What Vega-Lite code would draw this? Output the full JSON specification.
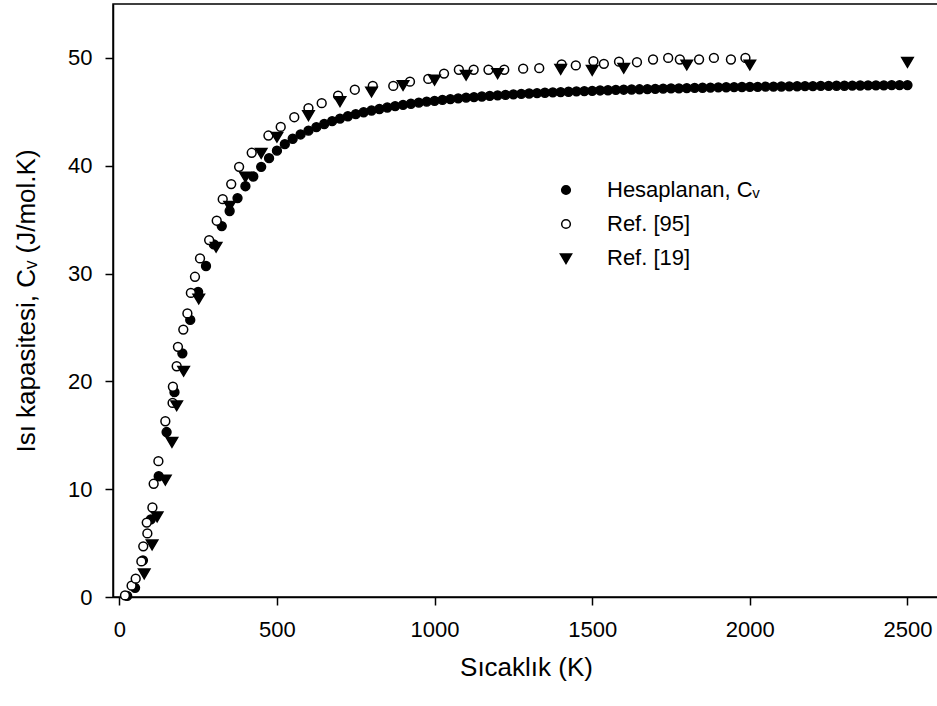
{
  "$schema": "https://vega.github.io/schema/vega-lite/v6.json",
  "width": 826,
  "height": 593,
  "autosize": {"type": "none"},
  "padding": {"left": 113, "top": 4, "right": 0, "bottom": 109},
  "background": "white",
  "config": {
    "font": "Liberation Sans",
    "view": {"stroke": "black", "strokeWidth": 1.5},
    "legend": {
      "title": null, "orient": "none", "legendX": 442, "legendY": 175,
      "labelFontSize": 22, "labelColor": "black", "labelOffset": 30, "rowPadding": 12, "padding": 0,
      "symbolSize": 75, "symbolStrokeWidth": 1.5
    }
  },
  "data": {"values": [
    {"series":"Hesaplanan, Cᵥ","order":1,"T":25,"Cv":0.1},
    {"series":"Hesaplanan, Cᵥ","order":1,"T":50,"Cv":0.85},
    {"series":"Hesaplanan, Cᵥ","order":1,"T":75,"Cv":3.4},
    {"series":"Hesaplanan, Cᵥ","order":1,"T":100,"Cv":7.2},
    {"series":"Hesaplanan, Cᵥ","order":1,"T":125,"Cv":11.2},
    {"series":"Hesaplanan, Cᵥ","order":1,"T":150,"Cv":15.3},
    {"series":"Hesaplanan, Cᵥ","order":1,"T":175,"Cv":19.0},
    {"series":"Hesaplanan, Cᵥ","order":1,"T":200,"Cv":22.6},
    {"series":"Hesaplanan, Cᵥ","order":1,"T":225,"Cv":25.7},
    {"series":"Hesaplanan, Cᵥ","order":1,"T":250,"Cv":28.3},
    {"series":"Hesaplanan, Cᵥ","order":1,"T":275,"Cv":30.7},
    {"series":"Hesaplanan, Cᵥ","order":1,"T":300,"Cv":32.7},
    {"series":"Hesaplanan, Cᵥ","order":1,"T":325,"Cv":34.4},
    {"series":"Hesaplanan, Cᵥ","order":1,"T":350,"Cv":35.8},
    {"series":"Hesaplanan, Cᵥ","order":1,"T":375,"Cv":37.0},
    {"series":"Hesaplanan, Cᵥ","order":1,"T":400,"Cv":38.1},
    {"series":"Hesaplanan, Cᵥ","order":1,"T":425,"Cv":39.0},
    {"series":"Hesaplanan, Cᵥ","order":1,"T":450,"Cv":39.9},
    {"series":"Hesaplanan, Cᵥ","order":1,"T":475,"Cv":40.7},
    {"series":"Hesaplanan, Cᵥ","order":1,"T":500,"Cv":41.4},
    {"series":"Hesaplanan, Cᵥ","order":1,"T":525,"Cv":42.0},
    {"series":"Hesaplanan, Cᵥ","order":1,"T":550,"Cv":42.5},
    {"series":"Hesaplanan, Cᵥ","order":1,"T":575,"Cv":42.9},
    {"series":"Hesaplanan, Cᵥ","order":1,"T":600,"Cv":43.25},
    {"series":"Hesaplanan, Cᵥ","order":1,"T":625,"Cv":43.58},
    {"series":"Hesaplanan, Cᵥ","order":1,"T":650,"Cv":43.87},
    {"series":"Hesaplanan, Cᵥ","order":1,"T":675,"Cv":44.13},
    {"series":"Hesaplanan, Cᵥ","order":1,"T":700,"Cv":44.37},
    {"series":"Hesaplanan, Cᵥ","order":1,"T":725,"Cv":44.59},
    {"series":"Hesaplanan, Cᵥ","order":1,"T":750,"Cv":44.78},
    {"series":"Hesaplanan, Cᵥ","order":1,"T":775,"Cv":44.96},
    {"series":"Hesaplanan, Cᵥ","order":1,"T":800,"Cv":45.12},
    {"series":"Hesaplanan, Cᵥ","order":1,"T":825,"Cv":45.26},
    {"series":"Hesaplanan, Cᵥ","order":1,"T":850,"Cv":45.40},
    {"series":"Hesaplanan, Cᵥ","order":1,"T":875,"Cv":45.53},
    {"series":"Hesaplanan, Cᵥ","order":1,"T":900,"Cv":45.64},
    {"series":"Hesaplanan, Cᵥ","order":1,"T":925,"Cv":45.75},
    {"series":"Hesaplanan, Cᵥ","order":1,"T":950,"Cv":45.85},
    {"series":"Hesaplanan, Cᵥ","order":1,"T":975,"Cv":45.94},
    {"series":"Hesaplanan, Cᵥ","order":1,"T":1000,"Cv":46.02},
    {"series":"Hesaplanan, Cᵥ","order":1,"T":1025,"Cv":46.10},
    {"series":"Hesaplanan, Cᵥ","order":1,"T":1050,"Cv":46.17},
    {"series":"Hesaplanan, Cᵥ","order":1,"T":1075,"Cv":46.24},
    {"series":"Hesaplanan, Cᵥ","order":1,"T":1100,"Cv":46.31},
    {"series":"Hesaplanan, Cᵥ","order":1,"T":1125,"Cv":46.37},
    {"series":"Hesaplanan, Cᵥ","order":1,"T":1150,"Cv":46.42},
    {"series":"Hesaplanan, Cᵥ","order":1,"T":1175,"Cv":46.48},
    {"series":"Hesaplanan, Cᵥ","order":1,"T":1200,"Cv":46.52},
    {"series":"Hesaplanan, Cᵥ","order":1,"T":1225,"Cv":46.57},
    {"series":"Hesaplanan, Cᵥ","order":1,"T":1250,"Cv":46.62},
    {"series":"Hesaplanan, Cᵥ","order":1,"T":1275,"Cv":46.66},
    {"series":"Hesaplanan, Cᵥ","order":1,"T":1300,"Cv":46.70},
    {"series":"Hesaplanan, Cᵥ","order":1,"T":1325,"Cv":46.73},
    {"series":"Hesaplanan, Cᵥ","order":1,"T":1350,"Cv":46.77},
    {"series":"Hesaplanan, Cᵥ","order":1,"T":1375,"Cv":46.80},
    {"series":"Hesaplanan, Cᵥ","order":1,"T":1400,"Cv":46.83},
    {"series":"Hesaplanan, Cᵥ","order":1,"T":1425,"Cv":46.86},
    {"series":"Hesaplanan, Cᵥ","order":1,"T":1450,"Cv":46.89},
    {"series":"Hesaplanan, Cᵥ","order":1,"T":1475,"Cv":46.92},
    {"series":"Hesaplanan, Cᵥ","order":1,"T":1500,"Cv":46.95},
    {"series":"Hesaplanan, Cᵥ","order":1,"T":1525,"Cv":46.98},
    {"series":"Hesaplanan, Cᵥ","order":1,"T":1550,"Cv":47.00},
    {"series":"Hesaplanan, Cᵥ","order":1,"T":1575,"Cv":47.03},
    {"series":"Hesaplanan, Cᵥ","order":1,"T":1600,"Cv":47.05},
    {"series":"Hesaplanan, Cᵥ","order":1,"T":1625,"Cv":47.07},
    {"series":"Hesaplanan, Cᵥ","order":1,"T":1650,"Cv":47.09},
    {"series":"Hesaplanan, Cᵥ","order":1,"T":1675,"Cv":47.11},
    {"series":"Hesaplanan, Cᵥ","order":1,"T":1700,"Cv":47.13},
    {"series":"Hesaplanan, Cᵥ","order":1,"T":1725,"Cv":47.15},
    {"series":"Hesaplanan, Cᵥ","order":1,"T":1750,"Cv":47.17},
    {"series":"Hesaplanan, Cᵥ","order":1,"T":1775,"Cv":47.18},
    {"series":"Hesaplanan, Cᵥ","order":1,"T":1800,"Cv":47.20},
    {"series":"Hesaplanan, Cᵥ","order":1,"T":1825,"Cv":47.22},
    {"series":"Hesaplanan, Cᵥ","order":1,"T":1850,"Cv":47.23},
    {"series":"Hesaplanan, Cᵥ","order":1,"T":1875,"Cv":47.25},
    {"series":"Hesaplanan, Cᵥ","order":1,"T":1900,"Cv":47.26},
    {"series":"Hesaplanan, Cᵥ","order":1,"T":1925,"Cv":47.28},
    {"series":"Hesaplanan, Cᵥ","order":1,"T":1950,"Cv":47.29},
    {"series":"Hesaplanan, Cᵥ","order":1,"T":1975,"Cv":47.30},
    {"series":"Hesaplanan, Cᵥ","order":1,"T":2000,"Cv":47.31},
    {"series":"Hesaplanan, Cᵥ","order":1,"T":2025,"Cv":47.32},
    {"series":"Hesaplanan, Cᵥ","order":1,"T":2050,"Cv":47.33},
    {"series":"Hesaplanan, Cᵥ","order":1,"T":2075,"Cv":47.34},
    {"series":"Hesaplanan, Cᵥ","order":1,"T":2100,"Cv":47.35},
    {"series":"Hesaplanan, Cᵥ","order":1,"T":2125,"Cv":47.36},
    {"series":"Hesaplanan, Cᵥ","order":1,"T":2150,"Cv":47.37},
    {"series":"Hesaplanan, Cᵥ","order":1,"T":2175,"Cv":47.38},
    {"series":"Hesaplanan, Cᵥ","order":1,"T":2200,"Cv":47.39},
    {"series":"Hesaplanan, Cᵥ","order":1,"T":2225,"Cv":47.40},
    {"series":"Hesaplanan, Cᵥ","order":1,"T":2250,"Cv":47.41},
    {"series":"Hesaplanan, Cᵥ","order":1,"T":2275,"Cv":47.42},
    {"series":"Hesaplanan, Cᵥ","order":1,"T":2300,"Cv":47.42},
    {"series":"Hesaplanan, Cᵥ","order":1,"T":2325,"Cv":47.43},
    {"series":"Hesaplanan, Cᵥ","order":1,"T":2350,"Cv":47.44},
    {"series":"Hesaplanan, Cᵥ","order":1,"T":2375,"Cv":47.45},
    {"series":"Hesaplanan, Cᵥ","order":1,"T":2400,"Cv":47.45},
    {"series":"Hesaplanan, Cᵥ","order":1,"T":2425,"Cv":47.46},
    {"series":"Hesaplanan, Cᵥ","order":1,"T":2450,"Cv":47.47},
    {"series":"Hesaplanan, Cᵥ","order":1,"T":2475,"Cv":47.47},
    {"series":"Hesaplanan, Cᵥ","order":1,"T":2500,"Cv":47.48},

    {"series":"Ref. [95]","order":2,"T":18,"Cv":0.15},
    {"series":"Ref. [95]","order":2,"T":39,"Cv":1.05},
    {"series":"Ref. [95]","order":2,"T":52,"Cv":1.7},
    {"series":"Ref. [95]","order":2,"T":70,"Cv":3.3},
    {"series":"Ref. [95]","order":2,"T":76,"Cv":4.7},
    {"series":"Ref. [95]","order":2,"T":89,"Cv":5.9},
    {"series":"Ref. [95]","order":2,"T":87,"Cv":6.9},
    {"series":"Ref. [95]","order":2,"T":105,"Cv":8.3},
    {"series":"Ref. [95]","order":2,"T":109,"Cv":10.5},
    {"series":"Ref. [95]","order":2,"T":124,"Cv":12.6},
    {"series":"Ref. [95]","order":2,"T":146,"Cv":16.3},
    {"series":"Ref. [95]","order":2,"T":169,"Cv":18.0},
    {"series":"Ref. [95]","order":2,"T":170,"Cv":19.5},
    {"series":"Ref. [95]","order":2,"T":182,"Cv":21.4},
    {"series":"Ref. [95]","order":2,"T":186,"Cv":23.2},
    {"series":"Ref. [95]","order":2,"T":203,"Cv":24.8},
    {"series":"Ref. [95]","order":2,"T":216,"Cv":26.3},
    {"series":"Ref. [95]","order":2,"T":227,"Cv":28.2},
    {"series":"Ref. [95]","order":2,"T":240,"Cv":29.7},
    {"series":"Ref. [95]","order":2,"T":256,"Cv":31.4},
    {"series":"Ref. [95]","order":2,"T":285,"Cv":33.1},
    {"series":"Ref. [95]","order":2,"T":309,"Cv":34.9},
    {"series":"Ref. [95]","order":2,"T":328,"Cv":36.9},
    {"series":"Ref. [95]","order":2,"T":355,"Cv":38.3},
    {"series":"Ref. [95]","order":2,"T":380,"Cv":39.9},
    {"series":"Ref. [95]","order":2,"T":420,"Cv":41.2},
    {"series":"Ref. [95]","order":2,"T":473,"Cv":42.8},
    {"series":"Ref. [95]","order":2,"T":512,"Cv":43.6},
    {"series":"Ref. [95]","order":2,"T":555,"Cv":44.5},
    {"series":"Ref. [95]","order":2,"T":600,"Cv":45.35},
    {"series":"Ref. [95]","order":2,"T":642,"Cv":45.8},
    {"series":"Ref. [95]","order":2,"T":694,"Cv":46.5},
    {"series":"Ref. [95]","order":2,"T":747,"Cv":47.05},
    {"series":"Ref. [95]","order":2,"T":804,"Cv":47.4},
    {"series":"Ref. [95]","order":2,"T":869,"Cv":47.4},
    {"series":"Ref. [95]","order":2,"T":922,"Cv":47.8},
    {"series":"Ref. [95]","order":2,"T":980,"Cv":48.05},
    {"series":"Ref. [95]","order":2,"T":1030,"Cv":48.55},
    {"series":"Ref. [95]","order":2,"T":1077,"Cv":48.9},
    {"series":"Ref. [95]","order":2,"T":1124,"Cv":48.9},
    {"series":"Ref. [95]","order":2,"T":1171,"Cv":48.9},
    {"series":"Ref. [95]","order":2,"T":1221,"Cv":48.9},
    {"series":"Ref. [95]","order":2,"T":1281,"Cv":49.0},
    {"series":"Ref. [95]","order":2,"T":1332,"Cv":49.05},
    {"series":"Ref. [95]","order":2,"T":1403,"Cv":49.4},
    {"series":"Ref. [95]","order":2,"T":1448,"Cv":49.3},
    {"series":"Ref. [95]","order":2,"T":1504,"Cv":49.7},
    {"series":"Ref. [95]","order":2,"T":1537,"Cv":49.45},
    {"series":"Ref. [95]","order":2,"T":1585,"Cv":49.65},
    {"series":"Ref. [95]","order":2,"T":1642,"Cv":49.6},
    {"series":"Ref. [95]","order":2,"T":1693,"Cv":49.85},
    {"series":"Ref. [95]","order":2,"T":1741,"Cv":50.0},
    {"series":"Ref. [95]","order":2,"T":1778,"Cv":49.85},
    {"series":"Ref. [95]","order":2,"T":1839,"Cv":49.85},
    {"series":"Ref. [95]","order":2,"T":1886,"Cv":50.0},
    {"series":"Ref. [95]","order":2,"T":1940,"Cv":49.85},
    {"series":"Ref. [95]","order":2,"T":1986,"Cv":50.0},

    {"series":"Ref. [19]","order":3,"T":79,"Cv":2.2},
    {"series":"Ref. [19]","order":3,"T":104,"Cv":4.9},
    {"series":"Ref. [19]","order":3,"T":120,"Cv":7.5},
    {"series":"Ref. [19]","order":3,"T":146,"Cv":10.9},
    {"series":"Ref. [19]","order":3,"T":167,"Cv":14.4},
    {"series":"Ref. [19]","order":3,"T":182,"Cv":17.8},
    {"series":"Ref. [19]","order":3,"T":204,"Cv":21.0},
    {"series":"Ref. [19]","order":3,"T":252,"Cv":27.7},
    {"series":"Ref. [19]","order":3,"T":307,"Cv":32.5},
    {"series":"Ref. [19]","order":3,"T":350,"Cv":36.3},
    {"series":"Ref. [19]","order":3,"T":400,"Cv":39.0},
    {"series":"Ref. [19]","order":3,"T":450,"Cv":41.2},
    {"series":"Ref. [19]","order":3,"T":500,"Cv":42.7},
    {"series":"Ref. [19]","order":3,"T":600,"Cv":44.7},
    {"series":"Ref. [19]","order":3,"T":700,"Cv":46.0},
    {"series":"Ref. [19]","order":3,"T":800,"Cv":46.9},
    {"series":"Ref. [19]","order":3,"T":900,"Cv":47.5},
    {"series":"Ref. [19]","order":3,"T":1000,"Cv":48.0},
    {"series":"Ref. [19]","order":3,"T":1100,"Cv":48.45},
    {"series":"Ref. [19]","order":3,"T":1200,"Cv":48.6},
    {"series":"Ref. [19]","order":3,"T":1400,"Cv":49.0},
    {"series":"Ref. [19]","order":3,"T":1500,"Cv":48.9},
    {"series":"Ref. [19]","order":3,"T":1600,"Cv":49.1},
    {"series":"Ref. [19]","order":3,"T":1800,"Cv":49.4},
    {"series":"Ref. [19]","order":3,"T":2000,"Cv":49.4},
    {"series":"Ref. [19]","order":3,"T":2500,"Cv":49.65}
  ]},
  "mark": {"type": "point", "filled": true, "size": 78, "strokeWidth": 1.5, "opacity": 1},
  "encoding": {
    "x": {
      "field": "T", "type": "quantitative",
      "scale": {"domain": [-20, 2600], "nice": false, "zero": false},
      "axis": {
        "values": [0, 500, 1000, 1500, 2000, 2500], "format": "d",
        "title": "Sıcaklık (K)", "titleFontSize": 26, "titleFontWeight": "normal", "titleColor": "black", "titlePadding": 14,
        "labelFontSize": 22, "labelColor": "black", "labelPadding": 14, "labelFlush": false,
        "tickColor": "black", "tickSize": 8, "tickWidth": 1.5,
        "domainColor": "black", "domainWidth": 1.5, "grid": false
      }
    },
    "y": {
      "field": "Cv", "type": "quantitative",
      "scale": {"domain": [0, 55], "nice": false},
      "axis": {
        "values": [0, 10, 20, 30, 40, 50], "format": "d",
        "title": "Isı kapasitesi, Cᵥ (J/mol.K)", "titleFontSize": 26, "titleFontWeight": "normal", "titleColor": "black", "titlePadding": 28,
        "labelFontSize": 22, "labelColor": "black", "labelPadding": 13, "labelFlush": false,
        "tickColor": "black", "tickSize": 8, "tickWidth": 1.5,
        "domainColor": "black", "domainWidth": 1.5, "grid": false
      }
    },
    "shape": {
      "field": "series", "type": "nominal",
      "scale": {"domain": ["Hesaplanan, Cᵥ", "Ref. [95]", "Ref. [19]"], "range": ["circle", "circle", "M-1.3,-0.95L1.3,-0.95L0,1.25Z"]}
    },
    "fill": {
      "field": "series", "type": "nominal",
      "scale": {"domain": ["Hesaplanan, Cᵥ", "Ref. [95]", "Ref. [19]"], "range": ["black", "white", "black"]}
    },
    "stroke": {
      "field": "series", "type": "nominal",
      "scale": {"domain": ["Hesaplanan, Cᵥ", "Ref. [95]", "Ref. [19]"], "range": ["black", "black", "black"]}
    },
    "order": {"field": "order", "type": "quantitative"}
  }
}
